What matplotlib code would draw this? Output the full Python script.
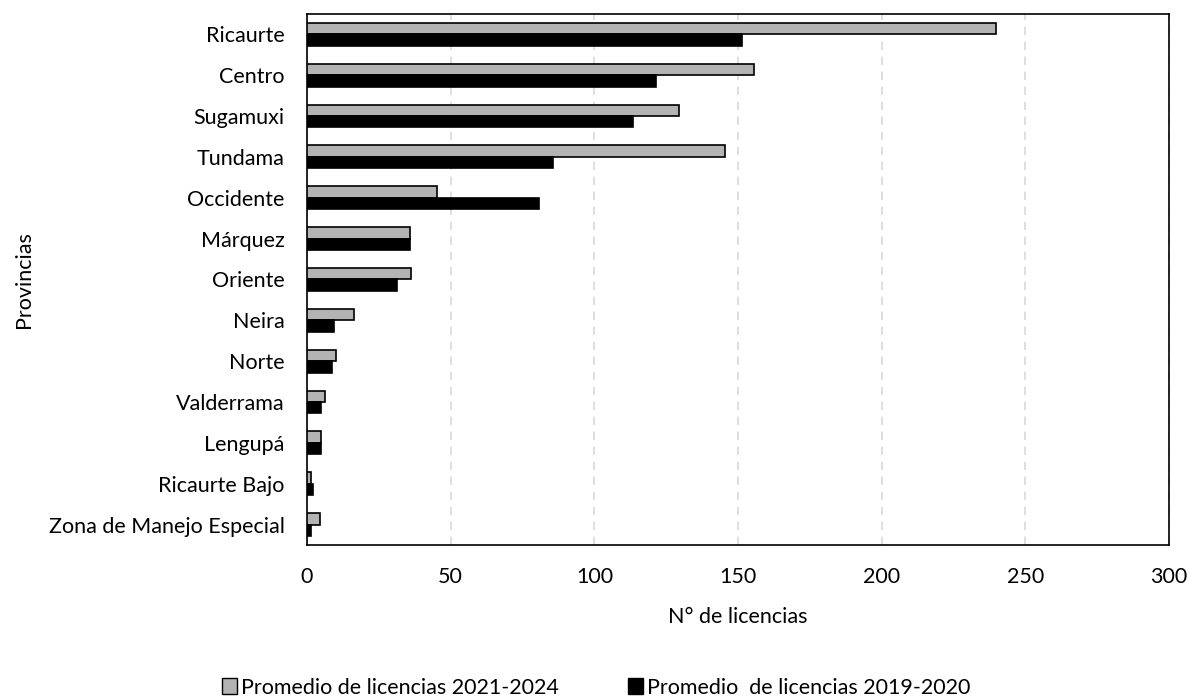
import numpy as np
import matplotlib.pyplot as plt
from matplotlib.patches import Patch

plt.rcParams['font.family'] = ['Lato', 'DejaVu Sans']

provincias = ['Ricaurte', 'Centro', 'Sugamuxi', 'Tundama', 'Occidente', 'Márquez',
              'Oriente', 'Neira', 'Norte', 'Valderrama', 'Lengupá', 'Ricaurte Bajo',
              'Zona de Manejo Especial']
prom_2021_2024 = [239.8, 155.6, 129.3, 145.3, 45.1, 35.9, 36.1, 16.5, 10.2, 6.4, 5.0, 1.2, 4.6]
prom_2019_2020 = [151.3, 121.4, 113.6, 85.7, 80.8, 35.9, 31.3, 9.3, 8.7, 4.9, 4.9, 2.2, 1.2]

fig, ax = plt.subplots(figsize=(11.92, 6.96), dpi=100)
fig.subplots_adjust(left=0.2576, right=0.9807, top=0.980, bottom=0.217)

y = np.arange(len(provincias))
h = 0.28
ax.barh(y - h / 2, prom_2021_2024, height=h, color='#b3b3b3', edgecolor='black', linewidth=1.2,
        zorder=3)
ax.barh(y + h / 2, prom_2019_2020, height=h, color='black', edgecolor='black', linewidth=1.2,
        zorder=3)

fs = 15.5
ax.set_yticks(y)
ax.set_yticklabels(provincias, fontsize=fs)
ax.set_ylim(len(provincias) - 0.5, -0.5)
ax.set_xlim(0, 300)
ax.set_xticks(range(0, 301, 50))
ax.tick_params(axis='x', labelsize=fs, length=0, pad=16)
ax.tick_params(axis='y', length=0, pad=16)
ax.xaxis.grid(True, linestyle=(0, (5, 4)), color='#d9d9d9', linewidth=1.2, zorder=0)
for s in ax.spines.values():
    s.set_linewidth(1.2)
    s.set_color('black')

ax.set_xlabel('N° de licencias', fontsize=fs, labelpad=14)
ax.set_ylabel('Provincias', fontsize=fs, labelpad=11)

handles = [Patch(facecolor='#b3b3b3', edgecolor='black', label='Promedio de licencias 2021-2024'),
           Patch(facecolor='black', edgecolor='black', label='Promedio  de licencias 2019-2020')]
fig.legend(handles=handles, loc='lower center', bbox_to_anchor=(0.5, -0.03), ncol=2,
           frameon=False, fontsize=fs, handlelength=0.7, handleheight=0.7,
           handletextpad=0.2, columnspacing=3.2)

plt.savefig('out.png', dpi=100)
